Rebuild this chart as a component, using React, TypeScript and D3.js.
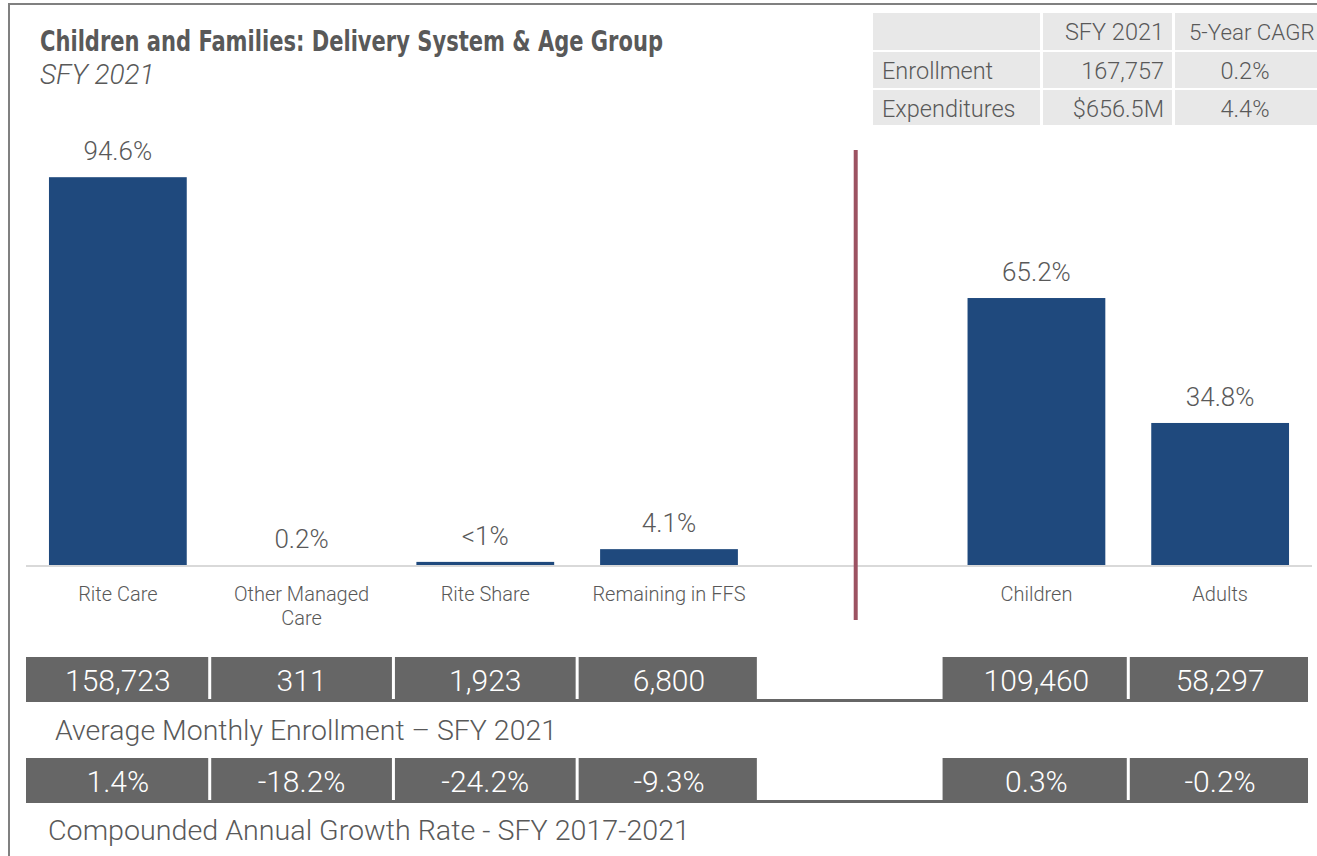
import React from "react";
import * as d3 from "d3";

const slots = ["Rite Care", "Other Managed Care", "Rite Share", "Remaining in FFS", "divider", "Children", "Adults"];
const shares: (number | null)[] = [94.6, 0.2, 1.0, 4.1, null, 65.2, 34.8];
const shareLabels = ["94.6%", "0.2%", "<1%", "4.1%", "", "65.2%", "34.8%"];
const enrollment = ["158,723", "311", "1,923", "6,800", "", "109,460", "58,297"];
const cagr = ["1.4%", "-18.2%", "-24.2%", "-9.3%", "", "0.3%", "-0.2%"];

const tableHeader = ["", "SFY 2021", "5-Year CAGR"];
const tableRows = ["Enrollment", "Expenditures"];
const tableSfy = ["167,757", "$656.5M"];
const tableCagr = ["0.2%", "4.4%"];

const W = 1317;
const H = 856;
const TXT = "#595959";
const BAR = "#1f497d";
const CELL = "#666666";
const BODY = "Roboto, 'Liberation Sans', sans-serif";
const FW = 300;

function wrap(text: string, font: string, maxW: number): string[] {
  const c = document.createElement("canvas").getContext("2d")!;
  c.font = font;
  const words = text.split(" ");
  const lines: string[] = [];
  let cur = "";
  for (const w of words) {
    const t = cur ? cur + " " + w : w;
    if (c.measureText(t).width > maxW && cur) {
      lines.push(cur);
      cur = w;
    } else cur = t;
  }
  if (cur) lines.push(cur);
  return lines;
}

export default function App() {
  const x = d3.scaleBand<string>().domain(slots).range([26, 1312]).paddingInner(0.25).paddingOuter(0.125);
  const y = d3.scaleLinear().domain([0, 100]).range([566, 155]);
  const bw = x.bandwidth();
  const step = x.step();
  const cx = (s: string) => (x(s) as number) + bw / 2;

  const rowTops = [657, 758];
  const rowH = 45;
  const rows = [enrollment, cagr];

  const colX = [873, 1043, 1175];
  const colW = [167, 129, 160];
  const rowY = [13, 52, 90];
  const rowHt = [37, 36, 35];
  const TF = 23.5;

  return (
    <svg width={W} height={H} style={{ position: "absolute", left: 0, top: 0, display: "block", background: "#fff" }}>
      <rect x={9} y={4} width={1400} height={900} fill="none" stroke="#808080" strokeWidth={2} />

      <text x={40} y={51} fontFamily="'Liberation Sans Narrow', 'DejaVu Sans Condensed', sans-serif" fontWeight="bold" fontSize={28} fill={TXT}
        textLength={623} lengthAdjust="spacingAndGlyphs">
        Children and Families: Delivery System &amp; Age Group
      </text>
      <text x={40} y={84} fontFamily={BODY} fontWeight={FW} fontStyle="italic" fontSize={28} fill={TXT}>
        SFY 2021
      </text>

      {rowY.map((ry, ri) =>
        colX.map((cx0, ci) => (
          <rect key={`tc-${ri}-${ci}`} x={cx0} y={ry} width={colW[ci]} height={rowHt[ri]} fill="#e8e8e8" />
        ))
      )}
      <text x={colX[1] + colW[1] - 8} y={rowY[0] + 27} textAnchor="end" fontFamily={BODY} fontWeight={FW} fontSize={TF} fill={TXT}>{tableHeader[1]}</text>
      <text x={1189} y={rowY[0] + 27} fontFamily={BODY} fontWeight={FW} fontSize={22.3} fill={TXT}>{tableHeader[2]}</text>
      {tableRows.map((r, i) => (
        <g key={`tr${i}`}>
          <text x={colX[0] + 9} y={rowY[i + 1] + 27} fontFamily={BODY} fontWeight={FW} fontSize={TF} fill={TXT}>{r}</text>
          <text x={colX[1] + colW[1] - 8} y={rowY[i + 1] + 27} textAnchor="end" fontFamily={BODY} fontWeight={FW} fontSize={TF} fill={TXT}>{tableSfy[i]}</text>
          <text x={colX[2] + 70} y={rowY[i + 1] + 27} textAnchor="middle" fontFamily={BODY} fontWeight={FW} fontSize={TF} fill={TXT}>{tableCagr[i]}</text>
        </g>
      ))}

      {slots.map((s, i) =>
        shares[i] == null ? null : (
          <g key={`b${i}`}>
            <rect x={x(s)} y={y(shares[i] as number)} width={bw} height={y(0) - y(shares[i] as number)} fill={BAR} />
            <text x={cx(s)} y={y(shares[i] as number) - 17} textAnchor="middle" fontFamily={BODY} fontWeight={FW} fontSize={26} fill={TXT}>
              {shareLabels[i]}
            </text>
          </g>
        )
      )}
      <line x1={26} x2={1312} y1={y(0)} y2={y(0)} stroke="#d9d9d9" strokeWidth={2} />

      {slots.map((s, i) => {
        if (s === "divider") return null;
        const lines = wrap(s, `${FW} 20px Roboto`, 172);
        return (
          <text key={`c${i}`} x={cx(s)} y={601} textAnchor="middle" fontFamily={BODY} fontWeight={FW} fontSize={20} fill={TXT}>
            {lines.map((l, li) => (
              <tspan key={li} x={cx(s)} dy={li === 0 ? 0 : 24}>{l}</tspan>
            ))}
          </text>
        );
      })}

      <line x1={cx("divider") + 3} x2={cx("divider") + 3} y1={150} y2={620} stroke="#9c5262" strokeWidth={4} />

      {rows.map((vals, ri) => {
        const top = rowTops[ri];
        const gapLeft = (x("divider") as number) - (step - bw) / 2;
        return (
          <g key={`row${ri}`}>
            <rect x={26} y={top} width={1282} height={rowH} fill={CELL} />
            <rect x={gapLeft - 4} y={top} width={step + 2} height={rowH - 3} fill="#fff" />
            {slots.map((s, i) => {
              if (s === "divider") return null;
              const left = (x(s) as number) - (step - bw) / 2;
              return (
                <g key={`cell${ri}-${i}`}>
                  {i > 0 && slots[i - 1] !== "divider" && (
                    <rect x={left - 1.5} y={top} width={3} height={rowH - 3} fill="#fff" />
                  )}
                  <text x={cx(s)} y={top + 34} textAnchor="middle" fontFamily={BODY} fontWeight={FW} fontSize={30} fill="#fff">
                    {vals[i]}
                  </text>
                </g>
              );
            })}
          </g>
        );
      })}
      <text x={55} y={740} fontFamily={BODY} fontWeight={FW} fontSize={28} fill={TXT} textLength={502} lengthAdjust="spacingAndGlyphs">Average Monthly Enrollment – SFY 2021</text>
      <text x={48} y={840} fontFamily={BODY} fontWeight={FW} fontSize={28} fill={TXT} textLength={642} lengthAdjust="spacingAndGlyphs">Compounded Annual Growth Rate - SFY 2017-2021</text>
    </svg>
  );
}
